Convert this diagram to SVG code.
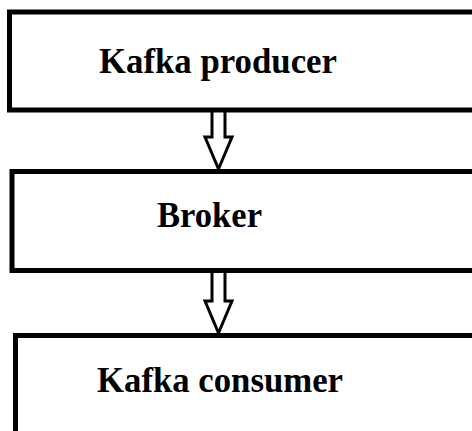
<svg xmlns="http://www.w3.org/2000/svg" width="472" height="431" viewBox="0 0 472 431">
<style>
.box{fill:#fff;stroke:#000;stroke-width:5}
.lbl{font-family:"Liberation Serif","Times New Roman",serif;font-weight:bold;font-size:36px;fill:#000}
.arr{fill:#fff;stroke:#000;stroke-width:3;stroke-linejoin:miter}
</style>
<rect width="472" height="431" fill="#fff"/>
<g id="connectors">
<polygon class="arr" points="212,110 212,137 205,137 218.5,169 232,137 225,137 225,110"/>
<polygon class="arr" points="212,270 212,301 205,301 218.5,333 232,301 225,301 225,270"/>
</g>
<g id="producer">
<rect class="box" x="9.5" y="12" width="480" height="98"/>
<text class="lbl" x="99" y="73" textLength="238" lengthAdjust="spacingAndGlyphs">Kafka producer</text>
</g>
<g id="broker">
<rect class="box" x="12" y="171.5" width="480" height="99"/>
<text class="lbl" x="157" y="227" textLength="105" lengthAdjust="spacingAndGlyphs">Broker</text>
</g>
<g id="consumer">
<rect class="box" x="15.5" y="335.5" width="480" height="120"/>
<text class="lbl" x="97" y="392" textLength="246" lengthAdjust="spacingAndGlyphs">Kafka consumer</text>
</g>
</svg>
